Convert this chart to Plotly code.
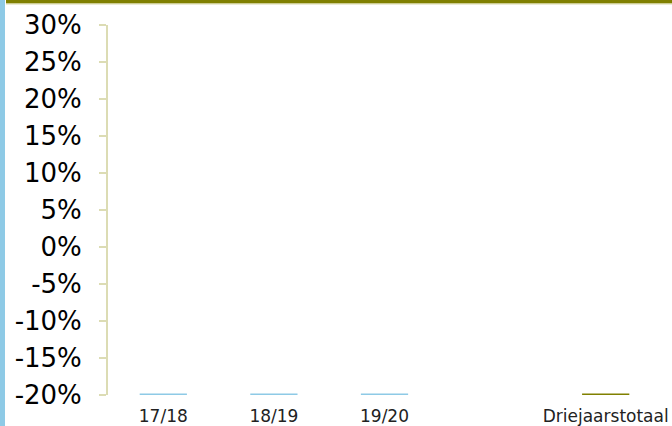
import plotly.graph_objects as go

categories = ["17/18", "18/19", "19/20", " ", "Driejaarstotaal"]
values = [-20, -20, -20, None, -20]
bar_colors = ["#8ECAE6", "#8ECAE6", "#8ECAE6", "#8ECAE6", "#808000"]
y_ticks = [-20, -15, -10, -5, 0, 5, 10, 15, 20, 25, 30]
y_labels = [f"{v}%" for v in y_ticks]

W, H = 672, 426
L, R, T, B = 108, 11, 25, 31
pw, ph = W - L - R, H - T - B

fig = go.Figure()
fig.add_trace(go.Bar(
    x=categories, y=values, base=-20,
    marker=dict(color=bar_colors, line=dict(color=bar_colors, width=3)),
    width=0.4, showlegend=False,
))

def px_x(p):
    return (p - L) / pw

def px_y(p):
    return (H - B - p) / ph

fig.update_layout(
    width=W, height=H,
    margin=dict(l=L, r=R, t=T, b=B, autoexpand=False),
    plot_bgcolor="white", paper_bgcolor="white",
    font=dict(family="DejaVu Sans", color="black"),
    bargap=0.6,
    xaxis=dict(
        type="category", showgrid=False, showline=False, ticks="",
        tickfont=dict(size=17, color="#222222"), zeroline=False,
        range=[-0.5, 4.5], ticklabelstandoff=9,
    ),
    yaxis=dict(
        range=[-20, 30], tickvals=y_ticks, ticktext=y_labels,
        showgrid=False, zeroline=False,
        showline=True, linecolor="#DCDCB4", linewidth=2,
        ticks="outside", ticklen=7, tickwidth=2, tickcolor="#DCDCB4",
        tickfont=dict(size=26, color="black"), ticklabelstandoff=12,
    ),
    shapes=[
        dict(type="rect", xref="paper", yref="paper",
             x0=px_x(0), x1=px_x(5), y0=px_y(H), y1=px_y(0),
             fillcolor="#8ECAE6", line=dict(width=0), layer="above"),
        dict(type="rect", xref="paper", yref="paper",
             x0=px_x(6), x1=px_x(W), y0=px_y(3.5), y1=px_y(0),
             fillcolor="#808000", line=dict(width=0), layer="above"),
        dict(type="rect", xref="paper", yref="paper",
             x0=px_x(6), x1=px_x(W), y0=px_y(4.5), y1=px_y(3.5),
             fillcolor="#D9D9A8", line=dict(width=0), layer="above"),
    ],
)

fig.write_html("out.html", config={"displayModeBar": False},
               post_script="document.body.style.margin='0';")
